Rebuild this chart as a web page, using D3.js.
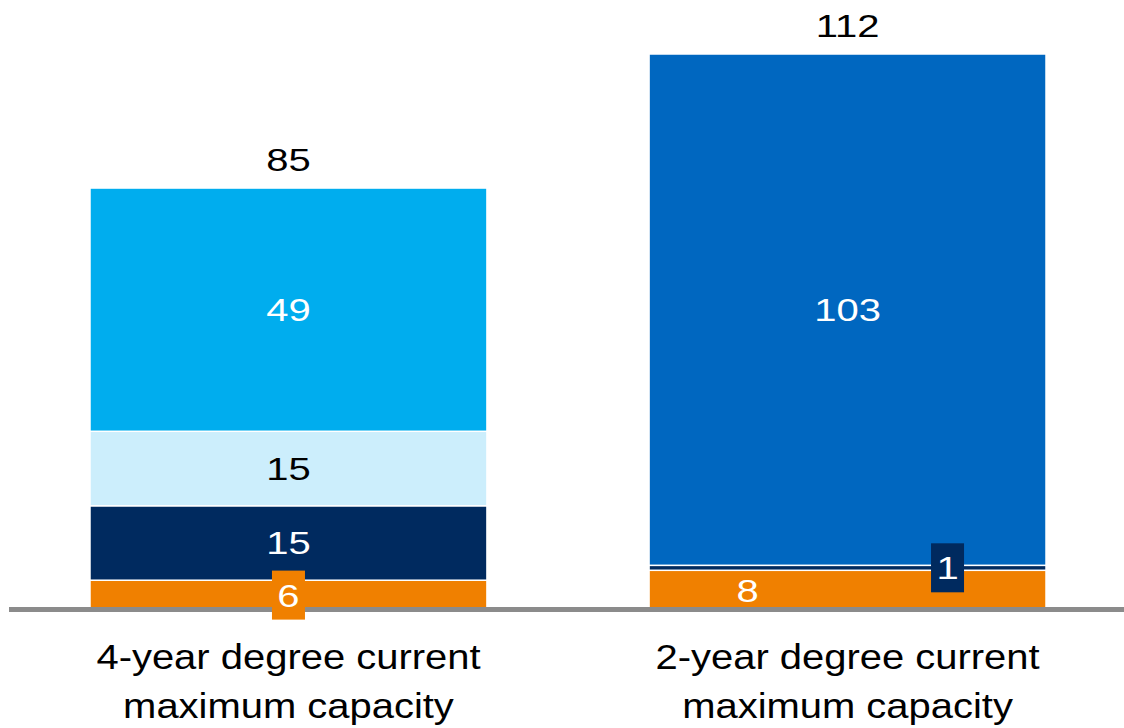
<!DOCTYPE html>
<html>
<head>
<meta charset="utf-8">
<script src="https://cdn.jsdelivr.net/npm/d3@7/dist/d3.min.js"></script>
<style>
  html, body { margin: 0; padding: 0; background: #ffffff; }
  svg { display: block; font-family: "Liberation Sans", Arial, sans-serif; }
</style>
</head>
<body>
<svg id="chart" width="1124" height="728"></svg>
<script>
// Capacity by degree type, stacked bottom-up
const categories = ["4-year degree current maximum capacity", "2-year degree current maximum capacity"];
const categoryLines = [["4-year degree current", "maximum capacity"], ["2-year degree current", "maximum capacity"]];
const seriesKeys = ["orange", "navy", "light", "cyan", "blue"];
const orangeValues = [6, 8];
const navyValues = [15, 1];
const lightValues = [15, 0];
const cyanValues = [49, 0];
const blueValues = [0, 103];
const totals = [85, 112];

const colors = {
  orange: "#F08000",
  navy: "#002A5F",
  light: "#CCEEFC",
  cyan: "#00ADEE",
  blue: "#0067C0"
};
const labelColors = { orange: "#ffffff", navy: "#ffffff", light: "#000000", cyan: "#ffffff", blue: "#ffffff" };

const rows = categories.map((c, i) => ({
  category: c,
  orange: orangeValues[i],
  navy: navyValues[i],
  light: lightValues[i],
  cyan: cyanValues[i],
  blue: blueValues[i]
}));

const stacked = d3.stack().keys(seriesKeys)(rows);

const svg = d3.select("#chart");

const x = d3.scaleBand()
  .domain(categories)
  .range([90, 1046])
  .paddingInner(0.29)
  .paddingOuter(0);

const y = d3.scaleLinear()
  .domain([0, 112])
  .range([610, 54]);

// stacked segments
const layers = svg.append("g").selectAll("g")
  .data(stacked)
  .join("g")
  .attr("fill", d => colors[d.key]);

layers.selectAll("rect")
  .data(d => d.filter(s => s[1] - s[0] > 0))
  .join("rect")
  .attr("x", d => x(d.data.category))
  .attr("width", x.bandwidth())
  .attr("y", d => y(d[1]))
  .attr("height", d => y(d[0]) - y(d[1]))
  .attr("stroke", "#ffffff")
  .attr("stroke-width", 1.5);

// baseline
svg.append("line")
  .attr("x1", 9).attr("x2", 1124)
  .attr("y1", 609.5).attr("y2", 609.5)
  .attr("stroke", "#8B8B8B")
  .attr("stroke-width", 5);

// segment labels; small segments get a boxed label, some shifted sideways
const boxed = { "orange|0": 0, "navy|1": 100 };
const shifted = { "orange|1": -100 };
const valueFont = 32;
const valueStretch = 1.25;

const labels = [];
stacked.forEach(layer => {
  layer.forEach((s, i) => {
    const v = s[1] - s[0];
    if (v <= 0) return;
    const key = layer.key + "|" + i;
    let cx = x(categories[i]) + x.bandwidth() / 2;
    if (key in boxed) cx += boxed[key];
    if (key in shifted) cx += shifted[key];
    let cy = (y(s[0]) + y(s[1])) / 2;
    labels.push({ key, series: layer.key, value: v, cx, cy, box: key in boxed });
  });
});

const labelG = svg.append("g");
labelG.selectAll("rect")
  .data(labels.filter(d => d.box))
  .join("rect")
  .attr("x", d => d.cx - 16.5)
  .attr("y", d => d.cy - 24.5)
  .attr("width", 33)
  .attr("height", 49)
  .attr("fill", d => colors[d.series]);

labelG.selectAll("text")
  .data(labels)
  .join("text")
  .attr("transform", d => `translate(${d.cx},${d.cy + 11.5}) scale(${valueStretch},1)`)
  .attr("text-anchor", "middle")
  .attr("font-size", valueFont)
  .attr("fill", d => labelColors[d.series])
  .text(d => d.value);

// totals above bars
svg.append("g").selectAll("text")
  .data(categories)
  .join("text")
  .attr("transform", (c, i) => `translate(${x(c) + x.bandwidth() / 2},${y(totals[i]) - 17}) scale(${valueStretch},1)`)
  .attr("text-anchor", "middle")
  .attr("font-size", valueFont)
  .attr("fill", "#000000")
  .text((c, i) => totals[i]);

// category labels
const catG = svg.append("g").selectAll("g")
  .data(categories)
  .join("g")
  .attr("transform", c => `translate(${x(c) + x.bandwidth() / 2},0)`);

catG.selectAll("text")
  .data((c, i) => categoryLines[i])
  .join("text")
  .attr("transform", (t, j) => `translate(0,${669 + j * 49}) scale(1.11,1)`)
  .attr("text-anchor", "middle")
  .attr("font-size", 36)
  .attr("fill", "#000000")
  .text(t => t);
</script>
</body>
</html>
